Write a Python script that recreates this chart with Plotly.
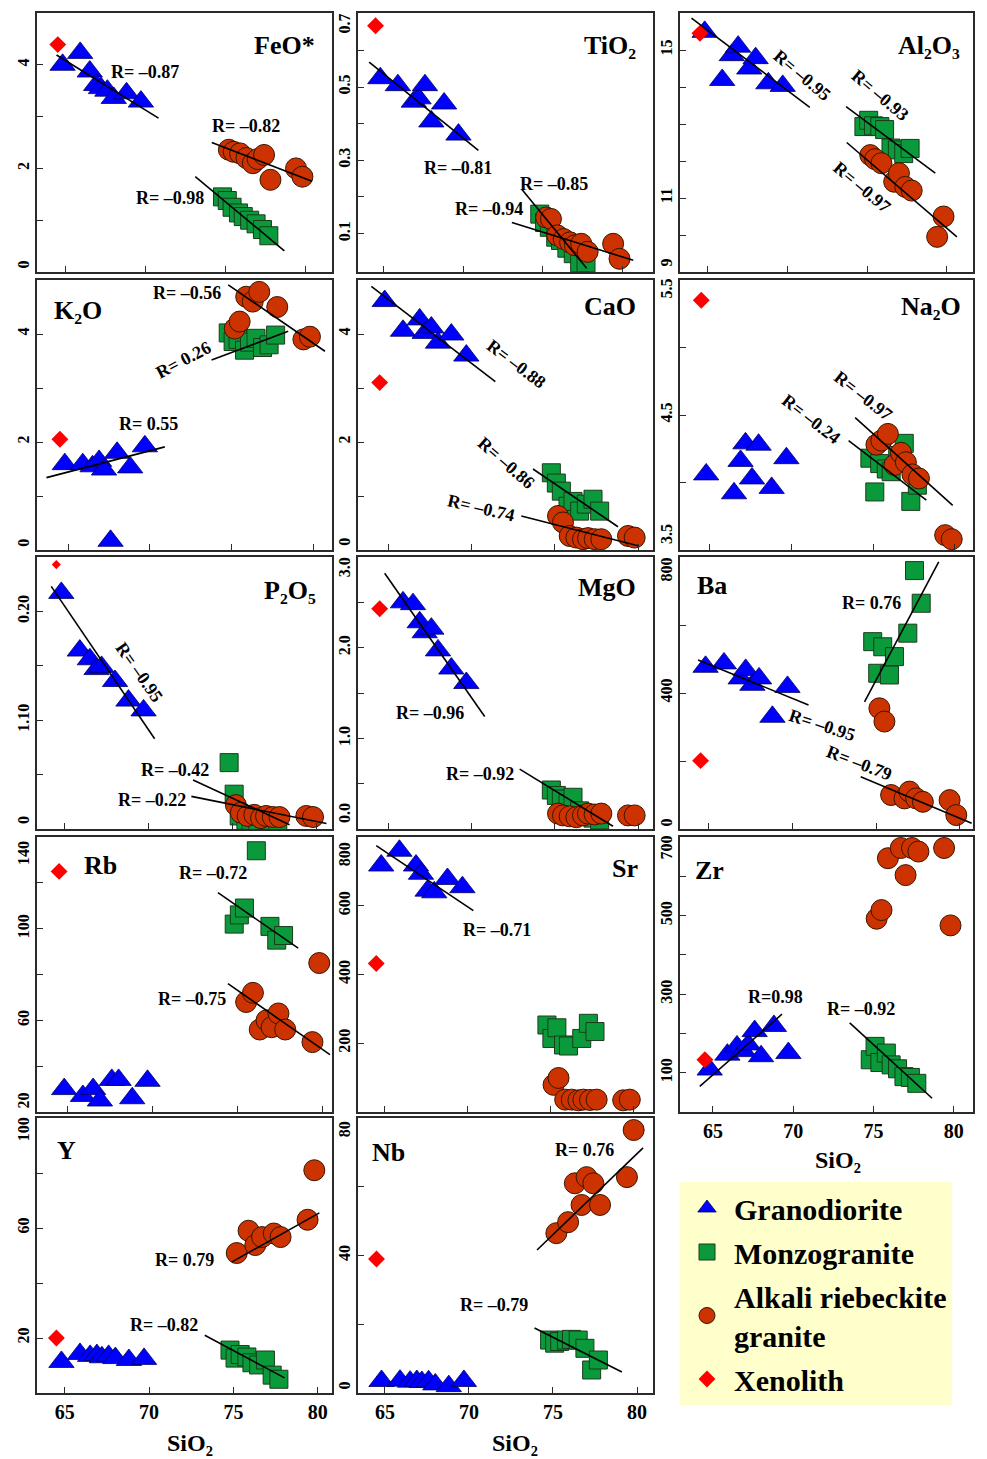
import plotly.graph_objects as go

# ---------------- data ----------------
GRANO_SIO2 = [64.8, 65.9, 66.5, 66.9, 67.2, 67.6, 68.0, 68.8, 69.7]
MONZO_SIO2 = [74.8, 75.1, 75.4, 75.8, 76.1, 76.5, 76.9, 77.3, 77.7]
ALK_SIO2 = [75.2, 75.5, 75.9, 76.3, 76.7, 77.0, 77.4, 77.8, 79.4, 79.8]
XENO_SIO2 = [64.5]

FEO_GRANO = [4.00, 4.23, 3.87, 3.61, 3.55, 3.50, 3.36, 3.45, 3.29]
FEO_MONZO = [1.45, 1.38, 1.25, 1.14, 1.07, 1.00, 0.93, 0.82, 0.70]
FEO_ALK = [2.36, 2.32, 2.29, 2.20, 2.10, 2.18, 2.26, 1.78, 2.00, 1.84]
FEO_XENO = [4.39]

TIO2_GRANO = [0.524, 0.505, None, 0.46, 0.469, 0.505, 0.406, 0.455, 0.37]
TIO2_MONZO = [0.153, 0.13, 0.117, 0.09, 0.081, 0.06, 0.045, 0.02, 0.02]
TIO2_ALK = [0.144, 0.14, 0.095, 0.085, 0.076, 0.068, 0.072, 0.05, 0.072, 0.031]
TIO2_XENO = [0.667]

AL2O3_GRANO = [15.49, 14.19, 14.86, 15.09, None, 14.5, 14.78, 14.1, 14.03]
AL2O3_MONZO = [12.93, 13.1, 12.95, 12.93, 12.85, 12.35, 12.3, 12.2, 12.34]
AL2O3_ALK = [12.16, 12.05, 11.94, None, 11.44, 11.67, 11.3, 11.2, 9.95, 10.5]
AL2O3_XENO = [15.45]

K2O_GRANO = [1.59, 1.59, 1.55, 1.65, 1.49, 0.17, 1.80, 1.53, 1.92]
K2O_MONZO = [4.02, 3.86, 3.90, 3.70, 3.85, 3.92, 3.75, 3.80, 3.98]
K2O_ALK = [4.10, 4.23, 4.69, 4.60, 4.78, None, None, 4.50, 3.90, 3.95]
K2O_XENO = [2.05]

CAO_GRANO = [4.61, 4.06, None, 4.27, 4.02, 4.12, 3.84, 3.99, 3.60]
CAO_MONZO = [1.43, 1.24, 1.09, 0.81, 0.90, 0.72, 0.85, 0.94, 0.72]
CAO_ALK = [0.63, 0.51, 0.26, 0.23, 0.20, 0.22, 0.20, 0.20, 0.26, 0.23]
CAO_XENO = [3.10]

NA2O_GRANO = [4.06, None, 3.92, 4.16, 4.29, 4.03, 4.28, 3.96, 4.18]
NA2O_MONZO = [4.18, 3.93, 4.14, 4.10, 4.08, 4.20, 4.29, 3.86, 3.98]
NA2O_ALK = [4.28, 4.31, 4.36, 4.13, 4.22, 4.15, 4.06, 4.03, 3.61, 3.58]
NA2O_XENO = [5.35]

P2O5_GRANO = [0.217, 0.164, 0.156, 0.147, 0.149, None, 0.136, 0.118, 0.109]
P2O5_MONZO = [0.061, 0.032, 0.012, 0.008, 0.008, 0.006, 0.010, 0.006, 0.005]
P2O5_ALK = [0.022, 0.015, 0.012, 0.013, 0.010, 0.012, 0.011, 0.011, 0.012, 0.011]
P2O5_XENO = [0.243]

MGO_GRANO = [None, 2.50, 2.48, 2.28, 2.17, 2.21, 1.97, 1.77, 1.61]
MGO_MONZO = [0.43, 0.37, 0.33, 0.28, 0.35, 0.20, 0.15, 0.12, 0.10]
MGO_ALK = [0.17, 0.15, 0.14, 0.13, 0.15, 0.17, 0.16, 0.17, 0.15, 0.15]
MGO_XENO = [2.43]

BA_GRANO = [477, 487, None, 443, 468, 424, 443, 330, 418]
BA_MONZO = [551, 458, 536, 453, 507, None, 576, 760, 664]
BA_ALK = [355, 316, 100, None, 90, 110, 90, 80, 85, 41]
BA_XENO = [201]

RB_GRANO = [30, 27, 30, 25, None, 34, 34, 26, 33.6]
RB_MONZO = [102, 106, 109, None, 134, None, 101, 95, 97]
RB_ALK = [None, 68, 72, 56, 60, 57, 63, 56, 50.5, 85]
RB_XENO = [125]

SR_GRANO = [717, 760, None, 717, 693, 644, 639, 678, 654]
SR_MONZO = [253, 214, 245, 195, 192, None, 214, 258, 234]
SR_ALK = [79, 99, 36, 36, 34, 36, 35, 36, 34, 36]
SR_XENO = [432]

ZR_GRANO = [108, 146, 167, 155, 172, 206, 142, 219, 150]
ZR_MONZO = [133, 167, 126, 150, 120, 110, 90, 88, 73]
ZR_ALK = [492, 514, 646, None, 672, 603, 672, 663, 672, 475]
ZR_XENO = [133]

Y_GRANO = [11.3, 14.2, 13.5, 13.8, 13.0, 13.5, 12.7, 12.0, 12.4]
Y_MONZO = [15.6, 12.7, 14.0, 13.1, 11.0, 10.2, 12.0, 6.5, 5.0]
Y_ALK = [50.9, None, 59, 53.8, 56.7, None, 58, 56.7, 63, 81]
Y_XENO = [20]

NB_GRANO = [3.5, 3.6, 3.3, 3.5, 3.2, 3.4, 2.5, 2.0, 3.5]
NB_MONZO = [15.4, 14.5, 15.0, 15.4, 15.6, 15.4, 13.0, 6.7, 9.6]
NB_ALK = [46.5, None, 49.7, 61, 54.7, 62.8, 61, 54.7, 62.8, 76.5]
NB_XENO = [39]

# regression lines: (SiO2 start, value start, SiO2 end, value end)
FEO_TRENDS = [(64.42, 4.19, 70.8, 2.97), (74.13, 2.5, 80.4, 1.75), (73.1, 1.84, 78.67, 0.41)]
TIO2_TRENDS = [(64.1, 0.568, 70.95, 0.327), (73.67, 0.221, 77.74, 0.005), (73.05, 0.13, 80.66, 0.027)]
AL2O3_TRENDS = [(63.97, 15.86, 71.4, 13.45), (73.68, 13.47, 79.28, 11.67), (73.72, 12.5, 80.64, 9.95)]
K2O_TRENDS = [(63.68, 1.34, 70.92, 1.91), (74.8, 4.91, 80.72, 3.68), (73.78, 3.52, 78.47, 4.05)]
CAO_TRENDS = [(64.0, 4.88, 71.44, 3.12), (73.7, 1.5, 78.8, 0.43), (73.0, 0.63, 80.0, 0.08)]
NA2O_TRENDS = [(73.9, 4.48, 79.86, 3.83), (73.5, 4.31, 78.25, 3.87)]
P2O5_TRENDS = [(64.2, 0.223, 70.36, 0.083), (72.65, 0.045, 78.4, 0.004), (72.55, 0.03, 80.6, 0.005)]
MGO_TRENDS = [(64.8, 2.82, 70.8, 1.24), (72.9, 0.66, 78.5, 0.03)]
BA_TRENDS = [(64.35, 497, 70.96, 365), (74.31, 374, 78.75, 786), (74.08, 154, 80.72, 17)]
RB_TRENDS = [(73.84, 115.7, 78.56, 91.5), (74.43, 76, 80.43, 45)]
SR_TRENDS = [(64.5, 775, 70.36, 586)]
ZR_TRENDS = [(64.18, 65, 69.3, 249), (73.52, 227, 78.65, 35)]
Y_TRENDS = [(74.9, 47.6, 80.1, 65.5), (73.3, 21, 78.04, 5.5)]
NB_TRENDS = [(74.05, 41.6, 80.36, 71.3), (73.9, 18.9, 79.1, 6.1)]

# correlation labels: (text, SiO2, value, text angle)
FEO_R = [("R= –0.87", 69.97, 3.87, 0), ("R= –0.82", 76.3, 2.81, 0), ("R= –0.98", 71.5, 1.43, 0)]
TIO2_R = [("R= –0.81", 69.7, 0.28, 0), ("R= –0.85", 75.7, 0.234, 0), ("R= –0.94", 71.6, 0.167, 0)]
AL2O3_R = [("R= –0.95", 70.9, 14.32, 40), ("R= –0.93", 75.8, 13.78, 40), ("R= –0.97", 74.67, 11.3, 40)]
K2O_R = [("R= 0.55", 69.9, 2.34, 0), ("R= –0.56", 72.25, 4.75, 0), ("R= 0.26", 72.04, 3.51, -28)]
CAO_R = [("R= –0.88", 72.7, 3.44, 37), ("R= –0.86", 72.1, 1.61, 41), ("R= –0.74", 70.6, 0.78, 13)]
NA2O_R = [("R= –0.97", 74.4, 4.64, 38), ("R= –0.24", 71.2, 4.47, 38)]
P2O5_R = [("R= –0.95", 69.43, 0.144, 55), ("R= –0.42", 71.6, 0.054, 0), ("R= –0.22", 70.2, 0.027, 0)]
MGO_R = [("R= –0.96", 67.5, 1.28, 0), ("R= –0.92", 70.5, 0.61, 0)]
BA_R = [("R= 0.76", 74.7, 664, 0), ("R= –0.95", 71.76, 306, 18), ("R= –0.79", 74.0, 193, 21)]
RB_R = [("R= –0.72", 73.55, 124.5, 0), ("R= –0.75", 72.33, 69.5, 0)]
SR_R = [("R= –0.71", 71.76, 529, 0)]
ZR_R = [("R=0.98", 68.9, 291.5, 0), ("R= –0.92", 74.24, 261.5, 0)]
Y_R = [("R= 0.79", 72.1, 48.4, 0), ("R= –0.82", 70.9, 24.7, 0)]
NB_R = [("R= 0.76", 76.9, 70.7, 0), ("R= –0.79", 71.5, 25.6, 0)]

X_TICKS = [65, 70, 75, 80]
GROUP_NAMES = ["Granodiorite", "Monzogranite", "Alkali riebeckite<br>granite", "Xenolith"]

# ---------------- layout helpers ----------------
PAGE_OFF = 8                      # default body margin of the html page
W, H = 987 - PAGE_OFF, 1459 - PAGE_OFF
COLS_PX = [(37, 332), (358, 653), (680, 973)]          # page pixels
ROWS_PX = [(13, 272), (280, 550), (557, 829), (837, 1112), (1118, 1393)]
FONT = "Liberation Serif"


def fx(px):
    return (px - PAGE_OFF) / W


def fy(py):
    return 1 - (py - PAGE_OFF) / H


# lv: where the tick labels sit (edge labels nudged inward as in the reference),
# mv: the tick marks
panels = [
    dict(t="FeO*", side="r", inset=15, top=32, r=0, c=0, xr=[63.2, 81.65], yr=[0, 5],
         lv=[0.1, 2, 4], lt=["0", "2", "4"], mv=[1, 2, 3, 4],
         d=(FEO_GRANO, FEO_MONZO, FEO_ALK, FEO_XENO), tr=FEO_TRENDS, rl=FEO_R),
    dict(t="TiO₂", side="r", inset=15, top=32, r=0, c=1, xr=[63.4, 81.9], yr=[-0.005, 0.702],
         lv=[0.1, 0.3, 0.5, 0.667], lt=["0.1", "0.3", "0.5", "0.7"], mv=[0.1, 0.2, 0.3, 0.4, 0.5, 0.6],
         d=(TIO2_GRANO, TIO2_MONZO, TIO2_ALK, TIO2_XENO), tr=TIO2_TRENDS, rl=TIO2_R),
    dict(t="Al₂O₃", side="r", inset=11, top=32, r=0, c=2, xr=[63.25, 81.65], yr=[9, 16],
         lv=[9.19, 11, 15], lt=["9", "11", "15"], mv=[10, 11, 12, 13, 14, 15],
         d=(AL2O3_GRANO, AL2O3_MONZO, AL2O3_ALK, AL2O3_XENO), tr=AL2O3_TRENDS, rl=AL2O3_R),
    dict(t="K₂O", side="l", inset=15, top=31, r=1, c=0, xr=[63.1, 81.15], yr=[0, 5],
         lv=[0.09, 2, 4], lt=["0", "2", "4"], mv=[1, 2, 3, 4],
         d=(K2O_GRANO, K2O_MONZO, K2O_ALK, K2O_XENO), tr=K2O_TRENDS, rl=K2O_R),
    dict(t="CaO", side="r", inset=15, top=27, r=1, c=1, xr=[63.2, 80.9], yr=[0, 5],
         lv=[0.11, 2, 4], lt=["0", "2", "4"], mv=[1, 2, 3, 4],
         d=(CAO_GRANO, CAO_MONZO, CAO_ALK, CAO_XENO), tr=CAO_TRENDS, rl=CAO_R),
    dict(t="Na₂O", side="r", inset=10, top=27, r=1, c=2, xr=[63.2, 81.1], yr=[3.5, 5.5],
         lv=[3.6, 4.5, 5.42], lt=["3.5", "4.5", "5.5"], mv=[4.0, 4.5, 5.0],
         d=(NA2O_GRANO, NA2O_MONZO, NA2O_ALK, NA2O_XENO), tr=NA2O_TRENDS, rl=NA2O_R),
    dict(t="P₂O₅", side="r", inset=14, top=33, r=2, c=0, xr=[63.35, 80.93], yr=[0, 0.25],
         lv=[0.006, 0.10, 0.20], lt=["0", "1.10", "0.20"], mv=[0.05, 0.10, 0.15, 0.20],
         d=(P2O5_GRANO, P2O5_MONZO, P2O5_ALK, P2O5_XENO), tr=P2O5_TRENDS, rl=P2O5_R, xs=7),
    dict(t="MgO", side="r", inset=15, top=30, r=2, c=1, xr=[63.2, 80.9], yr=[0, 3.0],
         lv=[0.15, 1.0, 2.0, 2.86], lt=["0.0", "1.0", "2.0", "3.0"], mv=[0.5, 1.0, 1.5, 2.0, 2.5],
         d=(MGO_GRANO, MGO_MONZO, MGO_ALK, MGO_XENO), tr=MGO_TRENDS, rl=MGO_R),
    dict(t="Ba", side="l", inset=15, top=28, r=2, c=2, xr=[63.27, 80.8], yr=[0, 800],
         lv=[12, 400, 756], lt=["0", "400", "800"], mv=[200, 400, 600],
         d=(BA_GRANO, BA_MONZO, BA_ALK, BA_XENO), tr=BA_TRENDS, rl=BA_R),
    dict(t="Rb", side="l", inset=45, top=28, r=3, c=0, xr=[63.2, 80.55], yr=[20, 140],
         lv=[24, 60, 100, 132], lt=["20", "60", "100", "140"], mv=[40, 60, 80, 100, 120],
         d=(RB_GRANO, RB_MONZO, RB_ALK, RB_XENO), tr=RB_TRENDS, rl=RB_R),
    dict(t="Sr", side="r", inset=13, top=31, r=3, c=1, xr=[63.4, 81.2], yr=[0, 800],
         lv=[200, 400, 600, 743], lt=["200", "400", "600", "800"], mv=[200, 400, 600],
         d=(SR_GRANO, SR_MONZO, SR_ALK, SR_XENO), tr=SR_TRENDS, rl=SR_R),
    dict(t="Zr", side="l", inset=13, top=33, r=3, c=2, xr=[62.95, 81.2], yr=[0, 700],
         lv=[100, 300, 500, 667], lt=["100", "300", "500", "700"], mv=[100, 200, 300, 400, 500, 600],
         d=(ZR_GRANO, ZR_MONZO, ZR_ALK, ZR_XENO), tr=ZR_TRENDS, rl=ZR_R, xlab=True),
    dict(t="Y", side="l", inset=18, top=32, r=4, c=0, xr=[63.35, 80.85], yr=[0, 100],
         lv=[20, 60, 95], lt=["20", "60", "100"], mv=[20, 40, 60, 80],
         d=(Y_GRANO, Y_MONZO, Y_ALK, Y_XENO), tr=Y_TRENDS, rl=Y_R, xlab=True),
    dict(t="Nb", side="l", inset=12, top=34, r=4, c=1, xr=[63.4, 80.95], yr=[0, 80],
         lv=[1.5, 40, 76], lt=["0", "40", "80"], mv=[20, 40, 60],
         d=(NB_GRANO, NB_MONZO, NB_ALK, NB_XENO), tr=NB_TRENDS, rl=NB_R, xlab=True),
]

STYLES = [
    dict(symbol="triangle-up", size=22, color="#0000FF", line=dict(color="#000060", width=0.8)),
    dict(symbol="square", size=18, color="#0A9A3C", line=dict(color="#1B3B1B", width=1)),
    dict(symbol="circle", size=21, color="#CC3300", line=dict(color="#3A1500", width=1)),
    dict(symbol="diamond", size=13, color="#FF0000", line=dict(width=0)),
]
XS = [GRANO_SIO2, MONZO_SIO2, ALK_SIO2, XENO_SIO2]

fig = go.Figure()
annotations = []
layout_axes = {}
AXC = "#2a2a2a"

for i, p in enumerate(panels):
    k = i + 1
    suffix = "" if k == 1 else str(k)
    xa, ya = f"x{suffix}", f"y{suffix}"
    x0p, x1p = COLS_PX[p["c"]]
    y0p, y1p = ROWS_PX[p["r"]]
    pw, ph = x1p - x0p, y1p - y0p

    for g in range(4):
        st = dict(STYLES[g])
        if g == 3 and "xs" in p:
            st["size"] = p["xs"]
        fig.add_trace(go.Scatter(
            x=XS[g], y=p["d"][g], mode="markers", marker=st,
            xaxis=xa, yaxis=ya, name=GROUP_NAMES[g], legendgroup=f"grp{g}",
            showlegend=(i == 0),
        ))
    lx, ly = [], []
    for (a, b, c, d) in p["tr"]:
        lx += [a, c, None]
        ly += [b, d, None]
    fig.add_trace(go.Scatter(x=lx, y=ly, mode="lines", line=dict(color="black", width=1.6),
                             xaxis=xa, yaxis=ya, showlegend=False, hoverinfo="skip"))

    axline = dict(showline=True, linecolor=AXC, linewidth=1.6, mirror=True,
                  showgrid=False, zeroline=False, automargin=False)
    layout_axes[f"xaxis{suffix}"] = dict(
        axline, domain=[fx(x0p), fx(x1p)], range=p["xr"], anchor=ya,
        ticks="inside", ticklen=6, tickwidth=1.3, tickcolor=AXC,
        tickmode="array", tickvals=X_TICKS, showticklabels=p.get("xlab", False),
        tickfont=dict(family=FONT, size=20, color="black", weight="bold"),
    )
    layout_axes[f"yaxis{suffix}"] = dict(
        axline, domain=[fy(y1p), fy(y0p)], range=p["yr"], anchor=xa,
        ticks="", tickmode="array", tickvals=p["lv"], ticktext=p["lt"], tickangle=-90,
        tickfont=dict(family=FONT, size=16, color="black", weight="bold"),
        minor=dict(tickmode="array", tickvals=p["mv"], ticks="inside", ticklen=6,
                   tickwidth=1.3, tickcolor=AXC, showgrid=False),
    )

    # panel title
    if p["side"] == "r":
        tx, txa = 1 - p["inset"] / pw, "right"
    else:
        tx, txa = p["inset"] / pw, "left"
    annotations.append(dict(
        text=f"<b>{p['t']}</b>", xref=f"{xa} domain", yref=f"{ya} domain",
        x=tx, y=1 - p["top"] / ph, xanchor=txa, yanchor="middle", showarrow=False,
        font=dict(family=FONT, size=26, color="black"),
    ))
    # correlation labels
    for (txt, rx, ry, ang) in p["rl"]:
        annotations.append(dict(
            text=f"<b>{txt}</b>", xref=xa, yref=ya, x=rx, y=ry, textangle=ang,
            xanchor="center", yanchor="middle", showarrow=False,
            font=dict(family=FONT, size=18, color="black"),
        ))

# x-axis titles
for (cx, cy) in [(190, 1443), (515, 1443), (838, 1160)]:
    annotations.append(dict(
        text="<b>SiO₂</b>", xref="paper", yref="paper", x=fx(cx), y=fy(cy),
        xanchor="center", yanchor="middle", showarrow=False,
        font=dict(family=FONT, size=24, color="black"),
    ))

fig.update_layout(
    width=W, height=H, margin=dict(l=0, r=0, t=0, b=0, autoexpand=False),
    paper_bgcolor="white", plot_bgcolor="white",
    annotations=annotations,
    legend=dict(
        x=fx(680), y=fy(1182), xanchor="left", yanchor="top",
        bgcolor="#FFFFCC", borderwidth=0, tracegroupgap=2, itemwidth=44,
        font=dict(family=FONT, size=30, color="black", weight="bold"),
    ),
    **layout_axes,
)

fig.write_html("out.html")
